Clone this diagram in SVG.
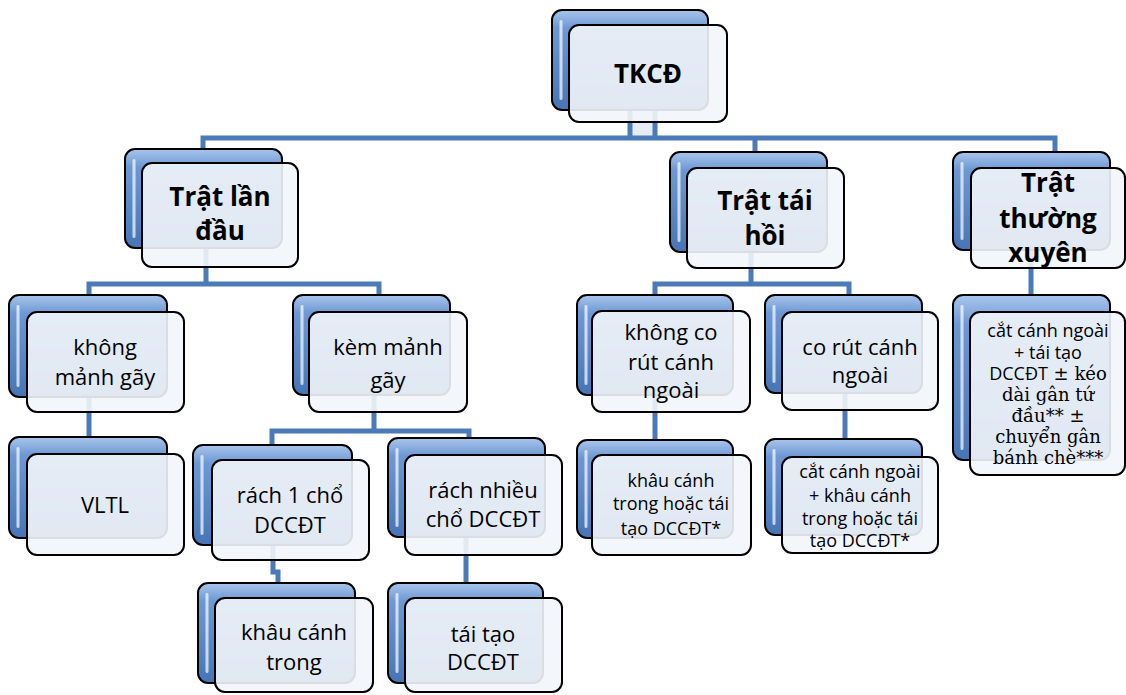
<svg xmlns="http://www.w3.org/2000/svg" width="1126" height="695" viewBox="0 0 1126 695">
<defs>
<linearGradient id="bg" x1="0" y1="0" x2="0" y2="1">
<stop offset="0" stop-color="#a9c6ec"/>
<stop offset="0.18" stop-color="#6d98d3"/>
<stop offset="1" stop-color="#4775b5"/>
</linearGradient>
<linearGradient id="hlg" x1="0" y1="0" x2="1" y2="0">
<stop offset="0" stop-color="#ffffff" stop-opacity="0.2"/>
<stop offset="0.5" stop-color="#ffffff" stop-opacity="0.85"/>
<stop offset="1" stop-color="#ffffff" stop-opacity="0.2"/>
</linearGradient>
<style>
.back{fill:url(#bg);stroke:#000;stroke-width:2}
.hl{fill:url(#hlg)}
.front{fill:#f2f5fa;fill-opacity:.9;stroke:#000;stroke-width:2}
.t{font-family:"Open Sans","Noto Sans",sans-serif;font-size:22px;fill:#000;text-anchor:middle}
.b{font-weight:bold;font-size:26px}
.s{font-size:18px}
.sf{font-family:"DejaVu Serif","Liberation Serif",serif;font-size:18px}
.conn{stroke:#4a7ab8;stroke-width:5;fill:none}
</style>
</defs>
<rect width="1126" height="695" fill="#fff"/>
<g id="connectors">
<rect x="630" y="108" width="25" height="30" fill="#e6ecf5"/>
<path class="conn" d="M630 108V138M655 108V138"/>
<path class="conn" d="M203 153V138H1055V155M755 138V155"/>
<path class="conn" d="M206 245V284M89 298V284H379V298"/>
<path class="conn" d="M89 395V440"/>
<path class="conn" d="M374 393V431M272 448V431H469V441"/>
<path class="conn" d="M273 543V572H278V586"/>
<path class="conn" d="M466 535V586"/>
<path class="conn" d="M751 250V284M655 298V284H849V298"/>
<path class="conn" d="M655 393V443"/>
<path class="conn" d="M845 391V442"/>
<path class="conn" d="M1031 248V298"/>
</g>
<g id="n-tkcd">
<rect class="back" x="552" y="10" width="156" height="100" rx="10"/>
<rect class="hl" x="559" y="20" width="4" height="80" rx="2"/>
<rect class="front" x="569" y="25" width="158" height="97" rx="10"/>
<text class="t b" x="648" y="83" font-size="28">TKCĐ</text>
</g>
<g id="n-tran-lan-dau">
<rect class="back" x="125" y="149" width="157" height="99" rx="10"/>
<rect class="hl" x="132" y="159" width="4" height="79" rx="2"/>
<rect class="front" x="142" y="163" width="156" height="104" rx="10"/>
<text class="t b"><tspan x="220" y="206">Trật lần</tspan><tspan x="220" y="240">đầu</tspan></text>
</g>
<g id="n-tai-hoi">
<rect class="back" x="670" y="152" width="157" height="100" rx="10"/>
<rect class="hl" x="677" y="162" width="4" height="80" rx="2"/>
<rect class="front" x="687" y="168" width="157" height="100" rx="10"/>
<text class="t b"><tspan x="765" y="210">Trật tái</tspan><tspan x="765" y="245">hồi</tspan></text>
</g>
<g id="n-thuong-xuyen">
<rect class="back" x="953" y="152" width="157" height="98" rx="10"/>
<rect class="hl" x="960" y="162" width="4" height="78" rx="2"/>
<rect class="front" x="971" y="168" width="154" height="100" rx="10"/>
<text class="t b"><tspan x="1048" y="192">Trật</tspan><tspan x="1048" y="228">thường</tspan><tspan x="1048" y="262">xuyên</tspan></text>
</g>
<g id="n-khong-manh">
<rect class="back" x="9" y="295" width="158" height="102" rx="10"/>
<rect class="hl" x="16" y="305" width="4" height="82" rx="2"/>
<rect class="front" x="27" y="312" width="157" height="100" rx="10"/>
<text class="t"><tspan x="105" y="355">không</tspan><tspan x="105" y="385">mảnh gãy</tspan></text>
</g>
<g id="n-kem-manh">
<rect class="back" x="293" y="295" width="157" height="100" rx="10"/>
<rect class="hl" x="300" y="305" width="4" height="80" rx="2"/>
<rect class="front" x="309" y="312" width="158" height="100" rx="10"/>
<text class="t"><tspan x="388" y="355">kèm mảnh</tspan><tspan x="388" y="388">gãy</tspan></text>
</g>
<g id="n-vltl">
<rect class="back" x="9" y="437" width="158" height="101" rx="10"/>
<rect class="hl" x="16" y="447" width="4" height="81" rx="2"/>
<rect class="front" x="27" y="454" width="157" height="101" rx="10"/>
<text class="t" x="105" y="513">VLTL</text>
</g>
<g id="n-rach-1">
<rect class="back" x="193" y="445" width="159" height="100" rx="10"/>
<rect class="hl" x="200" y="455" width="4" height="80" rx="2"/>
<rect class="front" x="212" y="460" width="157" height="100" rx="10"/>
<text class="t"><tspan x="290" y="503">rách 1 chổ</tspan><tspan x="290" y="533">DCCĐT</tspan></text>
</g>
<g id="n-rach-nhieu">
<rect class="back" x="388" y="438" width="157" height="99" rx="10"/>
<rect class="hl" x="395" y="448" width="4" height="79" rx="2"/>
<rect class="front" x="405" y="455" width="157" height="100" rx="10"/>
<text class="t"><tspan x="483" y="498">rách nhiều</tspan><tspan x="483" y="527">chổ DCCĐT</tspan></text>
</g>
<g id="n-khau-canh-trong">
<rect class="back" x="198" y="583" width="157" height="100" rx="10"/>
<rect class="hl" x="205" y="593" width="4" height="80" rx="2"/>
<rect class="front" x="215" y="598" width="158" height="94" rx="10"/>
<text class="t"><tspan x="294" y="640">khâu cánh</tspan><tspan x="294" y="670">trong</tspan></text>
</g>
<g id="n-tai-tao">
<rect class="back" x="388" y="583" width="155" height="100" rx="10"/>
<rect class="hl" x="395" y="593" width="4" height="80" rx="2"/>
<rect class="front" x="405" y="598" width="157" height="94" rx="10"/>
<text class="t"><tspan x="483" y="642">tái tạo</tspan><tspan x="483" y="670">DCCĐT</tspan></text>
</g>
<g id="n-khong-co-rut">
<rect class="back" x="577" y="295" width="156" height="100" rx="10"/>
<rect class="hl" x="584" y="305" width="4" height="80" rx="2"/>
<rect class="front" x="592" y="311" width="158" height="101" rx="10"/>
<text class="t"><tspan x="671" y="340">không co</tspan><tspan x="671" y="370">rút cánh</tspan><tspan x="671" y="398">ngoài</tspan></text>
</g>
<g id="n-co-rut">
<rect class="back" x="765" y="295" width="157" height="98" rx="10"/>
<rect class="hl" x="772" y="305" width="4" height="78" rx="2"/>
<rect class="front" x="782" y="312" width="156" height="98" rx="10"/>
<text class="t"><tspan x="860" y="355">co rút cánh</tspan><tspan x="860" y="383">ngoài</tspan></text>
</g>
<g id="n-khau-hoac-tai-tao">
<rect class="back" x="577" y="440" width="156" height="98" rx="10"/>
<rect class="hl" x="584" y="450" width="4" height="78" rx="2"/>
<rect class="front" x="592" y="455" width="159" height="100" rx="10"/>
<text class="t s"><tspan x="671" y="487">khâu cánh</tspan><tspan x="671" y="510">trong hoặc tái</tspan><tspan x="671" y="535">tạo DCCĐT*</tspan></text>
</g>
<g id="n-cat-khau">
<rect class="back" x="765" y="439" width="157" height="96" rx="10"/>
<rect class="hl" x="772" y="449" width="4" height="76" rx="2"/>
<rect class="front" x="782" y="457" width="156" height="96" rx="10"/>
<text class="t s"><tspan x="860" y="478">cắt cánh ngoài</tspan><tspan x="860" y="502">+ khâu cánh</tspan><tspan x="860" y="525">trong hoặc tái</tspan><tspan x="860" y="547">tạo DCCĐT*</tspan></text>
</g>
<g id="n-cat-tai-tao">
<rect class="back" x="953" y="295" width="157" height="165" rx="10"/>
<rect class="hl" x="960" y="305" width="4" height="145" rx="2"/>
<rect class="front" x="970" y="312" width="155" height="163" rx="10"/>
<text class="t s"><tspan x="1048" y="337">cắt cánh ngoài</tspan><tspan x="1048" y="359">+ tái tạo</tspan><tspan x="1048" y="380">DCCĐT<tspan class="sf"> ± kéo</tspan></tspan></text>
<text class="t sf"><tspan x="1048" y="401">dài gân tứ</tspan><tspan x="1048" y="422">đầu** ±</tspan><tspan x="1048" y="443">chuyển gân</tspan><tspan x="1048" y="464">bánh chè***</tspan></text>
</g>
</svg>
